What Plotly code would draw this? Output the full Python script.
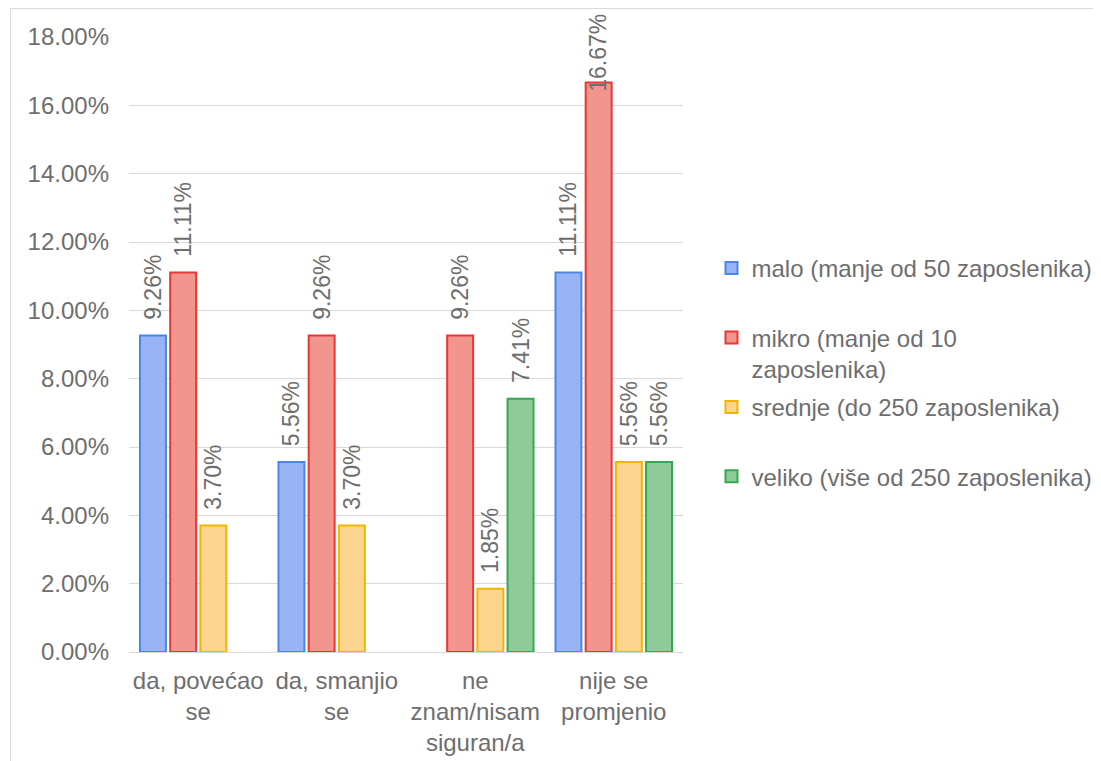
import plotly.graph_objects as go

categories = ["da, povećao<br>se", "da, smanjio<br>se", "ne<br>znam/nisam<br>siguran/a", "nije se<br>promjenio"]
series_names = ["malo (manje od 50 zaposlenika)", "mikro (manje od 10<br>zaposlenika)",
                "srednje (do 250 zaposlenika)", "veliko (više od 250 zaposlenika)"]
malo = [0.0926, 0.0556, None, 0.1111]
mikro = [0.1111, 0.0926, 0.0926, 0.1667]
srednje = [0.0370, 0.0370, 0.0185, 0.0556]
veliko = [None, None, 0.0741, 0.0556]

fills = ["#98b4f7", "#f3958f", "#fdd58f", "#8fcb98"]
lines = ["#4a86e8", "#e53935", "#f4b400", "#34a853"]
values = [malo, mikro, srednje, veliko]

L, R, T, B = 121, 685, 29, 644
PW, PH = R - L, B - T
BARGAP, GROUPGAP = 0.128, 0.14
LABEL_FONT = dict(family="Liberation Sans, Arial", size=23, color="#6e6e6e")
TOO_TALL = 0.16  # labels above this would leave the page; they overlap the bar top instead

fig = go.Figure()
annotations = []
slot = PW / len(categories) * (1 - BARGAP) / len(values)
for i, (name, vals) in enumerate(zip(series_names, values)):
    legend_name = name if "<br>" in name else name + "<br> "
    texts, positions = [], []
    for j, v in enumerate(vals):
        if v is None:
            texts.append(None)
            positions.append("none")
        elif v > TOO_TALL:
            texts.append(None)
            positions.append("none")
            annotations.append(dict(
                x=categories[j], y=v, xref="x", yref="y", text=f"{v*100:.2f}%",
                textangle=-90, showarrow=False, yanchor="bottom", xanchor="center",
                xshift=(i - (len(values) - 1) / 2) * slot, yshift=-11, font=LABEL_FONT))
        else:
            texts.append("\u00a0\u00a0" + f"{v*100:.2f}%")
            positions.append("outside")
    fig.add_trace(go.Bar(
        x=categories, y=vals, name=legend_name, legendgroup=str(i),
        marker=dict(color=fills[i], line=dict(color=lines[i], width=2)),
        text=texts, textposition=positions, textangle=-90, constraintext="none",
        textfont=LABEL_FONT, cliponaxis=False,
    ))

fig.update_layout(
    width=1101, height=761,
    paper_bgcolor="white", plot_bgcolor="white",
    font=dict(family="Liberation Sans, Arial", size=24, color="#6e6e6e"),
    margin=dict(l=L, r=1101 - R, t=T, b=761 - B),
    barmode="group", bargap=BARGAP, bargroupgap=GROUPGAP,
    showlegend=True,
    legend=dict(x=(714 - L) / PW, xanchor="left", y=1 - (238 - T) / PH, yanchor="top",
                font=dict(size=24, color="#6e6e6e"), tracegroupgap=4,
                itemwidth=30, valign="top"),
    yaxis=dict(range=[0, 0.18], dtick=0.02, tickformat=".2%", showgrid=True,
               gridcolor="#d9d9d9", gridwidth=1, zeroline=True, zerolinecolor="#d9d9d9",
               zerolinewidth=1, showline=False, ticks="", ticklabelstandoff=19),
    xaxis=dict(showline=False, ticks="", ticklabelstandoff=12,
               tickfont=dict(size=24, color="#6e6e6e")),
    annotations=annotations,
    shapes=[dict(type="rect", xref="paper", yref="paper",
                 x0=-(L - 0.5) / PW, x1=(1110 - L) / PW, y0=-(780 - B) / PH, y1=1 + (T - 0.5) / PH,
                 line=dict(color="#d9d9d9", width=1), layer="below")],
)

fig.write_html("out.html")
